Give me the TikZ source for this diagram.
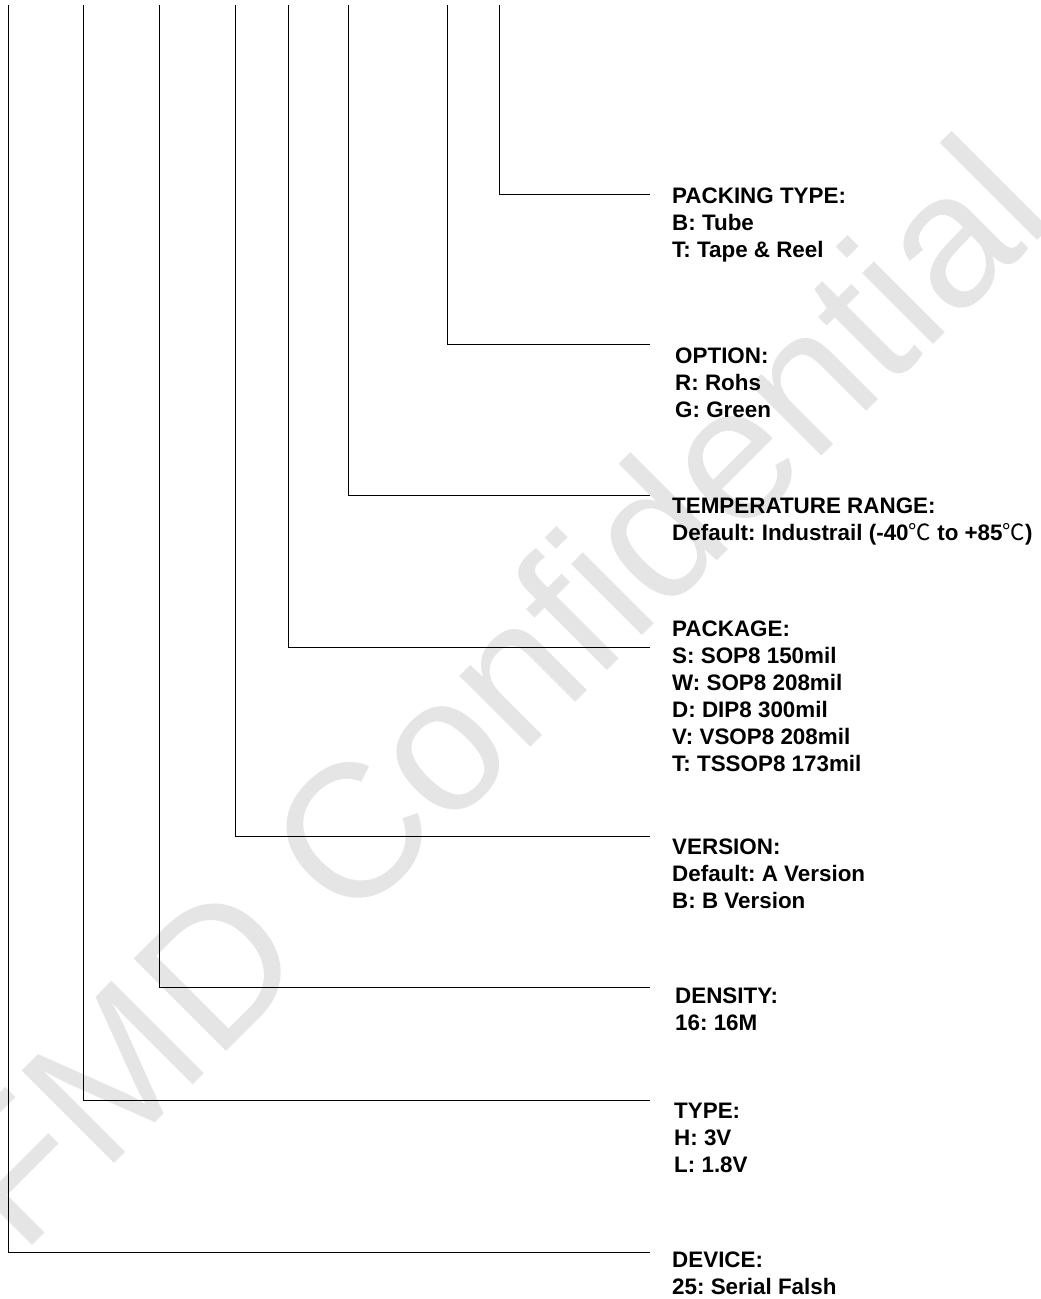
\documentclass[tikz,border=0pt]{standalone}
\usepackage{fontspec}
\setmainfont{Liberation Sans}
\newfontfamily\cjk{Noto Sans CJK SC}
\usepackage{tikz}
\usetikzlibrary{positioning}
\frenchspacing

\begin{document}
\begin{tikzpicture}[x=1pt, y=-1pt,
  lbl/.style={anchor=base west, align=left, inner sep=0pt,
    font=\fontsize{22.4}{27}\selectfont\bfseries},
  lead/.style={line width=1pt, black},
  wmark/.style={anchor=base west, inner sep=0pt, rotate=45, text=black!10,
    font=\fontsize{190}{190}\selectfont}]
\useasboundingbox (0,0) rectangle (1041,1299);
\clip (0,0) rectangle (1041,1299);

\node[wmark] (wm) at (21,1257) {FMD Confidential};

% stem tops
\coordinate (dev-top) at (8,5);
\coordinate (typ-top) at (83,5);
\coordinate (den-top) at (159,5);
\coordinate (ver-top) at (235,5);
\coordinate (pkg-top) at (288,5);
\coordinate (tmp-top) at (348,5);
\coordinate (opt-top) at (447,5);
\coordinate (pck-top) at (499,5);

% line ends
\coordinate (pck-end) at (650,194);
\coordinate (opt-end) at (650,344);
\coordinate (tmp-end) at (650,495);
\coordinate (pkg-end) at (650,647);
\coordinate (ver-end) at (650,836);
\coordinate (den-end) at (650,987);
\coordinate (typ-end) at (650,1100);
\coordinate (dev-end) at (650,1252);

% labels, placed by the baseline of their last line
\node[lbl] (pck) at (672,257) {PACKING TYPE:\\B: Tube\\T: Tape \& Reel};
\node[lbl] (opt) at (675,417) {OPTION:\\R: Rohs\\G: Green};
\node[lbl] (tmp) at (672,540) {TEMPERATURE RANGE:\\Default: Industrail (-40{\mdseries\cjk ℃} to +85{\mdseries\cjk ℃})};
\node[lbl] (pkg) at (672,771) {PACKAGE:\\S: SOP8 150mil\\W: SOP8 208mil\\D: DIP8 300mil\\V: VSOP8 208mil\\T: TSSOP8 173mil};
\node[lbl] (ver) at (672,908) {VERSION:\\Default: A Version\\B: B Version};
\node[lbl] (den) at (675,1030) {DENSITY:\\16: 16M};
\node[lbl] (typ) at (674,1172) {TYPE:\\H: 3V\\L: 1.8V};
\node[lbl] (dev) at (672,1294) {DEVICE:\\25: Serial Falsh};

\foreach \n in {dev,typ,den,ver,pkg,tmp,opt,pck}
  \draw[lead] (\n-top) |- (\n-end);
\end{tikzpicture}
\end{document}
